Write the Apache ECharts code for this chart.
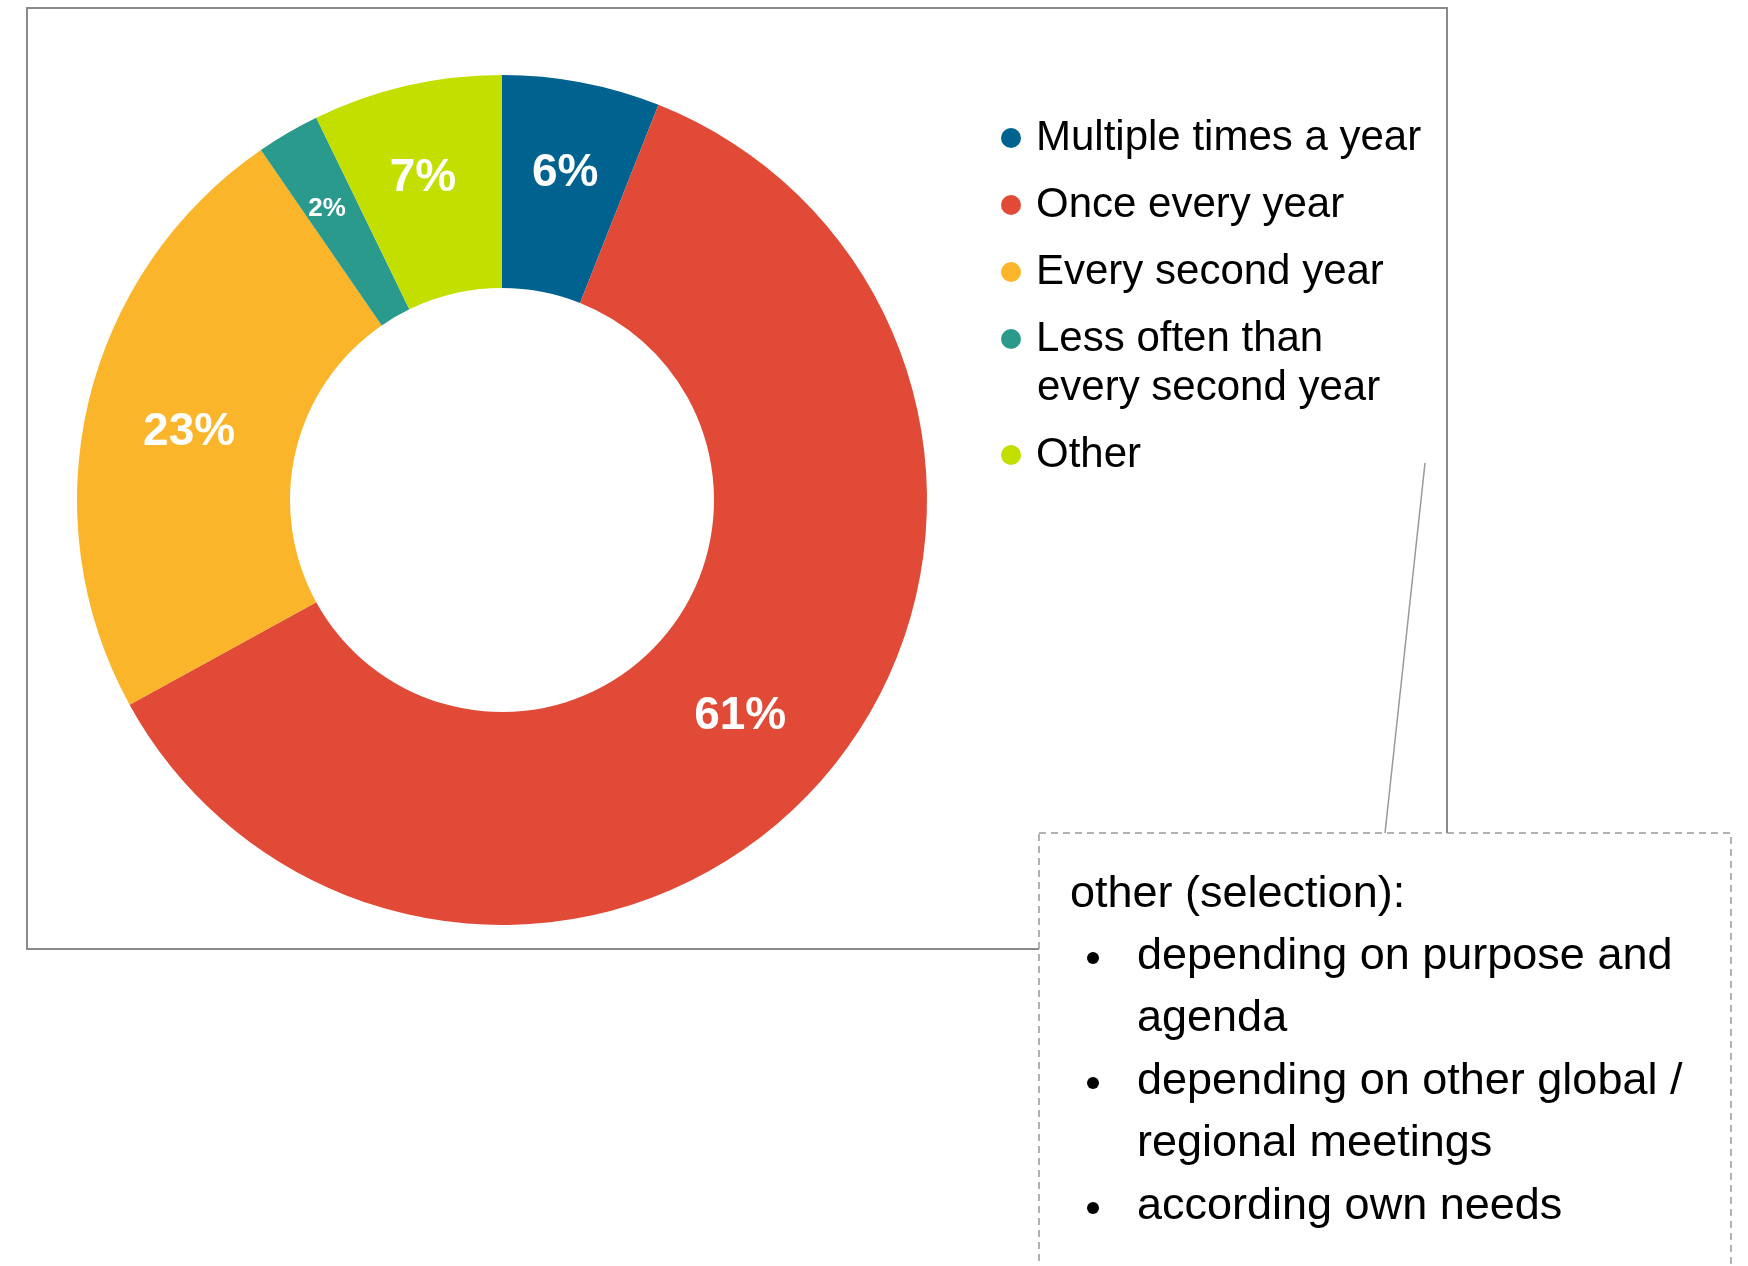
<!DOCTYPE html>
<html>
<head>
<meta charset="utf-8">
<script src="https://cdn.jsdelivr.net/npm/echarts@6/dist/echarts.min.js"></script>
<style>
  html, body { margin: 0; padding: 0; background: #fff; }
  #main { width: 1748px; height: 1266px; }
</style>
</head>
<body>
<div id="main"></div>
<script>
var categories = ['Multiple times a year', 'Once every year', 'Every second year', 'Less often than every second year', 'Other'];
var shares = [6, 61, 23.4, 2.4, 7.2];
var colors = ['#00628f', '#e04a37', '#fbb52b', '#299a8b', '#c3df00'];
// callout text
var calloutTitle = 'other (selection):';
var calloutLines = [
  ['depending on purpose and', 'agenda'],
  ['depending on other global /', 'regional meetings'],
  ['according own needs']
];

var FONT = '"Liberation Sans", Arial, sans-serif';
var myChart = echarts.init(document.getElementById('main'));

// small nudges so the labels sit where the original puts them
var labelNudge = { 0: [3, -11], 1: [-3, 4], 2: [0, 6], 3: [-13, -13], 4: [-7, -8] };

var pieData = categories.map(function (name, i) {
  var item = { name: name, value: shares[i], itemStyle: { color: colors[i] }, label: { offset: labelNudge[i] } };
  // the small slice has a smaller label
  if (shares[i] < 5) {
    item.label.fontSize = 26;
  }
  return item;
});

// callout text elements
var textEls = [{
  type: 'text', left: 1070, top: 872, z: 20,
  style: { text: calloutTitle, font: '45px ' + FONT, fill: '#000' }
}];
var lineY = 934;
calloutLines.forEach(function (lines) {
  textEls.push({
    type: 'circle', z: 20,
    shape: { cx: 1093, cy: lineY + 24, r: 6 },
    style: { fill: '#000' }
  });
  lines.forEach(function (t) {
    textEls.push({
      type: 'text', left: 1137, top: lineY, z: 20,
      style: { text: t, font: '45px ' + FONT, fill: '#000' }
    });
    lineY += 62.5;
  });
});
// second line of the wrapped legend entry
textEls.push({
  type: 'text', x: 1037, y: 388, z: 20,
  style: { text: 'every second year', font: '42px ' + FONT, fill: '#000', verticalAlign: 'middle' }
});

var legendBase = {
  orient: 'vertical',
  icon: 'circle',
  left: 996,
  itemWidth: 20,
  itemHeight: 20,
  itemGap: 25,
  selectedMode: false,
  textStyle: { fontSize: 42, fontFamily: FONT, color: '#000', padding: [0, 0, 0, 10] }
};

var option = {
  backgroundColor: '#fff',
  animation: false,
  legend: [
    Object.assign({}, legendBase, {
      top: 112,
      data: categories.slice(0, 3)
    }),
    Object.assign({}, legendBase, {
      top: 313,
      data: [categories[3]],
      formatter: function () { return 'Less often than'; }
    }),
    Object.assign({}, legendBase, {
      top: 429,
      data: [categories[4]]
    })
  ],
  graphic: [
    {
      type: 'rect', z: 0, silent: true,
      shape: { x: 27, y: 8, width: 1420, height: 941 },
      style: { fill: null, stroke: '#8a8a8a', lineWidth: 2 }
    },
    {
      type: 'line', z: 10, silent: true,
      shape: { x1: 1425, y1: 463, x2: 1385, y2: 833 },
      style: { stroke: '#999', lineWidth: 1.5 }
    },
    {
      type: 'rect', z: 10, silent: true,
      shape: { x: 1039, y: 833, width: 692, height: 470 },
      style: { fill: '#fff', stroke: '#999', lineWidth: 1.5, lineDash: [7, 5] }
    }
  ].concat(textEls),
  series: [{
    type: 'pie',
    center: [502, 500],
    radius: [212, 425],
    startAngle: 90,
    clockwise: true,
    avoidLabelOverlap: false,
    silent: true,
    itemStyle: { borderWidth: 0 },
    label: {
      show: true,
      position: 'inside',
      formatter: function (p) { return Math.round(p.value) + '%'; },
      color: '#fff',
      fontSize: 46,
      fontWeight: 'bold',
      fontFamily: FONT
    },
    labelLine: { show: false },
    data: pieData
  }]
};
myChart.setOption(option);
</script>
</body>
</html>
